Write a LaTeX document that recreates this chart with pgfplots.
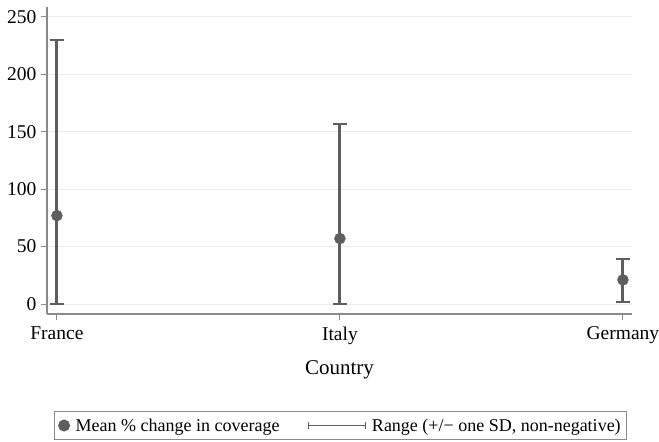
\documentclass[border=0pt]{standalone}
\usepackage{pgfplots}
\pgfplotsset{compat=1.18}
\usepackage{fontspec}
\setmainfont{Liberation Serif}
\definecolor{dg}{HTML}{5E5E5E}
\definecolor{ax}{HTML}{8A8A8A}
\definecolor{gr}{HTML}{EBEBEB}
\begin{document}
\begin{tikzpicture}
\begin{axis}[
  scale only axis,
  width=585pt, height=307pt,
  xmin=-0.035, xmax=2.032,
  ymin=-8.7, ymax=258.7,
  axis lines=left,
  axis line style={ax, line width=1.2pt, -},
  xtick={0,1,2},
  xticklabels={France,Italy,Germany},
  ytick={0,50,100,150,200,250},
  tick align=outside,
  tick style={ax, line width=1pt},
  major tick length=6pt,
  ymajorgrids,
  grid style={gr, line width=1pt},
  /pgf/number format/assume math mode=true,
  tick label style={font=\fontsize{19.5}{22}\selectfont, text=black},
  xticklabel style={yshift=-3pt},
  yticklabel style={xshift=-1pt},
  xlabel={Country},
  xlabel style={font=\fontsize{21}{25}\selectfont, yshift=-9pt},
  legend style={at={(0.502,-0.316)}, anchor=north, legend columns=2,
    draw=ax, line width=1pt, font=\fontsize{18}{20}\selectfont,
    inner ysep=5pt, inner xsep=4pt,
    /tikz/every odd column/.append style={column sep=4pt},
    /tikz/every even column/.append style={column sep=26pt}},
  clip=false,
]
\addplot[dg, only marks, mark=*, mark size=5.5pt, mark options={fill=dg, draw=dg},
  error bars/.cd, y dir=both, y explicit,
  error bar style={dg, line width=3pt},
  error mark options={rotate=90, mark size=7pt, line width=2.2pt, dg}]
  coordinates {
    (0,77) += (0,153) -= (0,77)
    (1,57) += (0,100) -= (0,57)
    (2,21) += (0,18) -= (0,19)
  };
\addlegendentry{Mean \% change in coverage}
\addlegendimage{legend image code/.code={
  \draw[dg, line width=1.5pt] (0pt,0pt) -- (57pt,0pt);
  \draw[dg, line width=1.2pt] (0pt,-3.5pt) -- (0pt,3.5pt);
  \draw[dg, line width=1.2pt] (57pt,-3.5pt) -- (57pt,3.5pt);}}
\addlegendentry{Range (+/\textminus\ one SD, non-negative)}
\coordinate (SW) at (rel axis cs:0,0);
\coordinate (NE) at (rel axis cs:1,1);
\end{axis}
\pgfresetboundingbox
\path ([xshift=-47pt,yshift=-128pt]SW) rectangle ([xshift=27pt,yshift=7pt]NE);
\end{tikzpicture}
\end{document}
